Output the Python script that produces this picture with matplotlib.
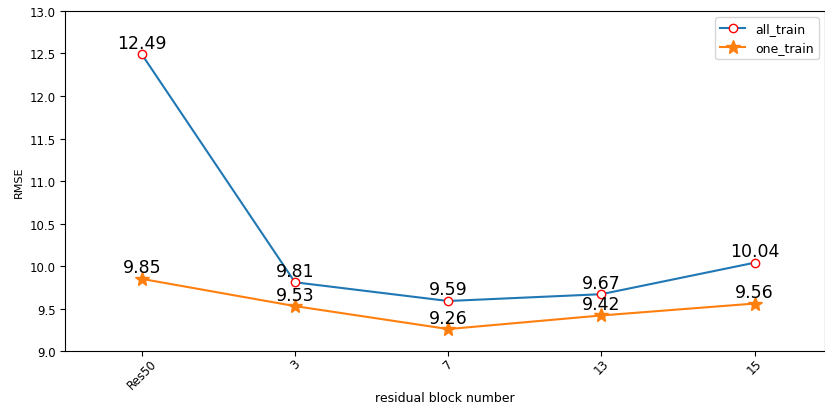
import matplotlib
matplotlib.use('Agg')
import matplotlib.pyplot as plt

# x categories and the two rmse series
blocks = ['Res50', '3', '7', '13', '15']
all_train = [12.49, 9.81, 9.59, 9.67, 10.04]
one_train = [9.85, 9.53, 9.26, 9.42, 9.56]

fig = plt.figure(figsize=(8.25, 4.1), dpi=100)
ax = fig.add_axes([0.079, 0.141, 0.921, 0.830])

x = list(range(len(blocks)))
ax.plot(x, all_train, color='#1f77b4', marker='o', markerfacecolor='white',
        markeredgecolor='red', markersize=6, label='all_train')
ax.plot(x, one_train, color='#ff7f0e', marker='*', markersize=10, label='one_train')

for xi, v in zip(x, all_train):
    ax.text(xi, v + 0.03, '%.2f' % v, ha='center', va='bottom', fontsize=12.5)
for xi, v in zip(x, one_train):
    ax.text(xi, v + 0.03, '%.2f' % v, ha='center', va='bottom', fontsize=12.5)

ax.set_xticks(x)
ax.set_xticklabels(blocks, rotation=45, fontsize=8.5)
ax.tick_params(axis='x', pad=0.5)
ax.set_xlim(-0.5, 4.46)
ax.set_ylim(9.0, 13.0)
ax.set_yticks([9.0, 9.5, 10.0, 10.5, 11.0, 11.5, 12.0, 12.5, 13.0])
ax.tick_params(axis='y', labelsize=8.5)
ax.set_xlabel('residual block number', fontsize=9, labelpad=0)
ax.set_ylabel('RMSE', fontsize=8)
ax.legend(loc='upper right', fontsize=9)

plt.savefig('out.png')
